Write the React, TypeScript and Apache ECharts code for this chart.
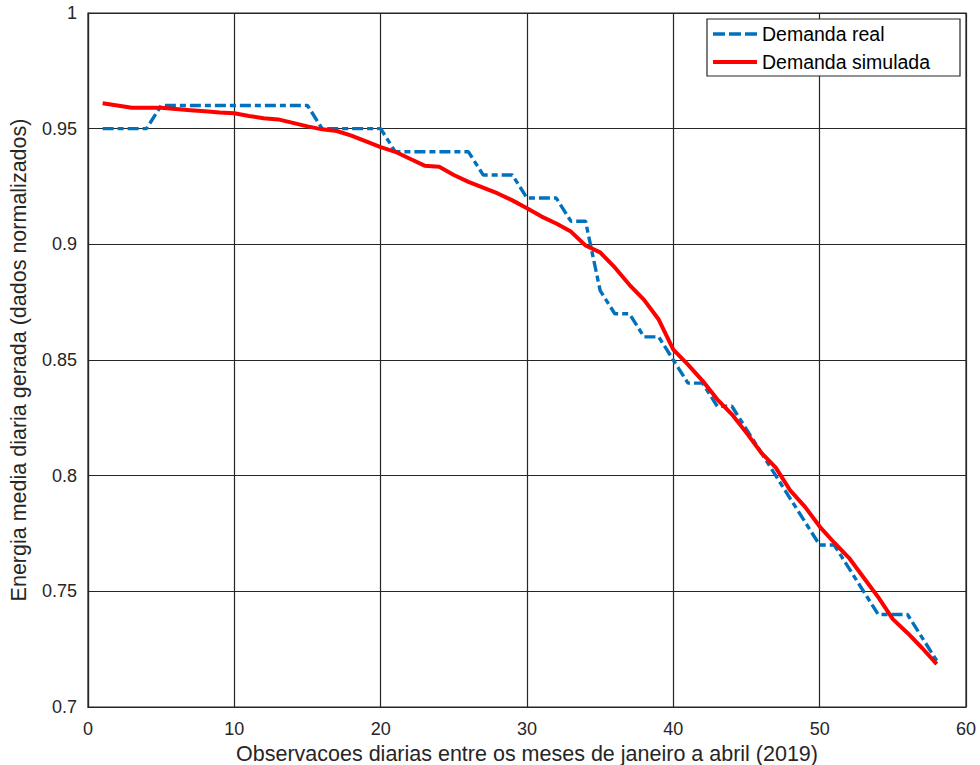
import React, { useEffect, useRef } from "react";
import * as echarts from "echarts";

const days: number[] = Array.from({ length: 58 }, (_, i) => i + 1);

const demandaReal: number[] = [
  0.95, 0.95, 0.95, 0.95,
  0.96, 0.96, 0.96, 0.96, 0.96, 0.96, 0.96, 0.96, 0.96, 0.96, 0.96,
  0.95, 0.95, 0.95, 0.95, 0.95,
  0.94, 0.94, 0.94, 0.94, 0.94, 0.94,
  0.93, 0.93, 0.93,
  0.92, 0.92, 0.92,
  0.91, 0.91,
  0.88,
  0.87, 0.87,
  0.86, 0.86,
  0.85,
  0.84, 0.84,
  0.83, 0.83,
  0.82, 0.81, 0.80, 0.79, 0.78, 0.77, 0.77, 0.76, 0.75,
  0.74, 0.74, 0.74, 0.73, 0.72,
];

const demandaSimulada: number[] = [
  0.961, 0.960, 0.959, 0.959, 0.959, 0.9585, 0.958, 0.9575, 0.957, 0.9567,
  0.9555, 0.9545, 0.954, 0.9525, 0.951, 0.9497, 0.949, 0.947, 0.9445, 0.942,
  0.940, 0.937, 0.934, 0.9335, 0.930, 0.927, 0.9245, 0.922, 0.919, 0.9156,
  0.912, 0.909, 0.9055, 0.8995, 0.8965, 0.890, 0.8825, 0.876, 0.8675, 0.8545,
  0.848, 0.841, 0.833, 0.8265, 0.8185, 0.810, 0.8035, 0.7935, 0.7865, 0.778,
  0.771, 0.7645, 0.756, 0.7475, 0.738, 0.732, 0.7255, 0.7185,
];

const seriesNames: string[] = ["Demanda real", "Demanda simulada"];
const xTitle = "Observacoes diarias entre os meses de janeiro a abril (2019)";
const yTitle = "Energia media diaria gerada (dados normalizados)";

const FONT = "'Liberation Sans', Arial, Helvetica, sans-serif";
const INK = "#262626";

export default function App() {
  const ref = useRef<HTMLDivElement>(null);

  useEffect(() => {
    document.body.style.margin = "0";
    if (!ref.current) return;
    const chart = echarts.init(ref.current, undefined, { renderer: "svg" });
    chart.setOption({
      animation: false,
      backgroundColor: "#ffffff",
      textStyle: { fontFamily: FONT, color: INK },
      grid: {
        left: 88,
        top: 13,
        right: 14,
        bottom: 58,
        outerBoundsMode: "none",
        containLabel: false,
        show: true,
        borderColor: INK,
        borderWidth: 1.2,
        backgroundColor: "transparent",
      },
      legend: {
        right: 20,
        top: 19,
        orient: "vertical",
        backgroundColor: "#ffffff",
        borderColor: INK,
        borderWidth: 1.2,
        borderRadius: 0,
        padding: [5, 30, 4, 6],
        itemWidth: 44,
        itemHeight: 19,
        itemGap: 8,
        textStyle: { fontFamily: FONT, fontSize: 19.5, color: "#000000" },
        data: [
          {
            name: seriesNames[0],
            icon: "path://M0,0H12V3.5H0Z M16,0H28V3.5H16Z M32,0H44V3.5H32Z",
            itemStyle: { color: "#0072BD" },
          },
          {
            name: seriesNames[1],
            icon: "path://M0,0H44V4H0Z",
            itemStyle: { color: "#FF0000" },
          },
        ],
      },
      xAxis: {
        type: "value",
        min: 0,
        max: 60,
        interval: 10,
        name: xTitle,
        nameLocation: "middle",
        nameGap: 28,
        nameTextStyle: { fontSize: 21.5, color: INK, fontFamily: FONT },
        axisLine: { show: true, lineStyle: { color: INK, width: 1.2 } },
        axisTick: { show: false },
        axisLabel: { fontSize: 18, color: INK, margin: 13, fontFamily: FONT },
        splitLine: { show: true, lineStyle: { color: INK, width: 1.2 } },
      },
      yAxis: {
        type: "value",
        min: 0.7,
        max: 1,
        interval: 0.05,
        name: yTitle,
        nameLocation: "middle",
        nameGap: 58,
        nameTextStyle: { fontSize: 21.5, color: INK, fontFamily: FONT },
        axisLine: { show: true, lineStyle: { color: INK, width: 1.2 } },
        axisTick: { show: false },
        axisLabel: {
          fontSize: 18,
          color: INK,
          margin: 11,
          fontFamily: FONT,
          formatter: (v: number) => String(Math.round(v * 100) / 100),
        },
        splitLine: { show: true, lineStyle: { color: INK, width: 1.2 } },
      },
      series: [
        {
          name: seriesNames[0],
          type: "line",
          data: days.map((d, i) => [d, demandaReal[i]]),
          showSymbol: false,
          symbol: "none",
          color: "#0072BD",
          lineStyle: { color: "#0072BD", width: 3.4, type: [11, 4, 6, 4] },
          z: 2,
        },
        {
          name: seriesNames[1],
          type: "line",
          data: days.map((d, i) => [d, demandaSimulada[i]]),
          showSymbol: false,
          symbol: "none",
          color: "#FF0000",
          lineStyle: { color: "#FF0000", width: 4 },
          z: 3,
        },
      ],
    });
    return () => chart.dispose();
  }, []);

  return (
    <div
      ref={ref}
      style={{ position: "fixed", left: 0, top: 0, width: 980, height: 765 }}
    />
  );
}
